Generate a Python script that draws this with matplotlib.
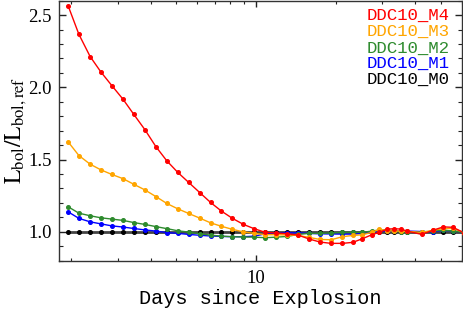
import numpy as np
import matplotlib
matplotlib.use("Agg")
import matplotlib.pyplot as plt
from matplotlib.ticker import MultipleLocator, FormatStrFormatter, LogLocator, NullFormatter

# time grid (days since explosion)
days = [1.95, 2.14, 2.36, 2.59, 2.85, 3.14, 3.45, 3.80, 4.18, 4.60,
        5.06, 5.56, 6.12, 6.73, 7.40, 8.14, 8.96, 9.85, 10.84, 11.92,
        13.11, 14.42, 15.87, 17.45, 19.2, 21.2, 23.2, 25.2, 27.3, 29.2,
        31.3, 33.3, 35.2, 37.2, 42.2, 46.4, 51.0, 55.5, 61.0]

m4 = [2.563, 2.367, 2.213, 2.107, 2.012, 1.918, 1.813, 1.707, 1.590, 1.491,
      1.411, 1.342, 1.272, 1.203, 1.143, 1.093, 1.051, 1.021, 0.996, 0.991,
      0.986, 0.977, 0.950, 0.929, 0.920, 0.920, 0.927, 0.952, 0.979, 0.996,
      1.019, 1.021, 1.019, 1.005, 0.982, 1.010, 1.034, 1.031, 0.993]
m3 = [1.622, 1.528, 1.468, 1.429, 1.397, 1.368, 1.329, 1.290, 1.244, 1.196,
      1.159, 1.127, 1.095, 1.062, 1.038, 1.017, 0.999, 0.989, 0.980, 0.980,
      0.978, 0.975, 0.961, 0.947, 0.945, 0.966, 0.975, 0.979, 0.996, 1.017,
      1.007, 1.005, 1.005, 1.003, 0.996, 1.010, 1.023, 1.023, 0.995]
m2 = [1.173, 1.129, 1.111, 1.097, 1.088, 1.079, 1.064, 1.051, 1.036, 1.022,
      1.007, 0.998, 0.986, 0.977, 0.970, 0.966, 0.964, 0.963, 0.959, 0.963,
      0.968, 0.982, 0.989, 0.989, 0.992, 0.996, 0.996, 0.996, 1.005, 1.012,
      1.012, 1.008, 1.000, 0.998, 0.996, 1.005, 1.012, 1.005, 0.998]
m1 = [1.138, 1.093, 1.069, 1.055, 1.041, 1.033, 1.023, 1.013, 1.005, 0.995,
      0.989, 0.982, 0.976, 0.971, 0.968, 0.966, 0.966, 0.970, 0.986, 0.989,
      0.993, 0.993, 0.989, 0.986, 0.985, 0.984, 0.984, 0.989, 0.996, 1.003,
      1.005, 1.005, 1.005, 1.005, 1.002, 1.000, 1.010, 1.005, 1.000]
m0 = [1.0] * len(days)

names = ["DDC10_M4", "DDC10_M3", "DDC10_M2", "DDC10_M1", "DDC10_M0"]
colors = ["#ff0000", "#ffa500", "#2e8b2e", "#0000ff", "#000000"]

plt.rcParams['mathtext.fontset'] = 'stix'
fig = plt.figure(figsize=(4.63, 3.09), dpi=100)
ax = fig.add_axes([0.1274, 0.1563, 0.8706, 0.8417])

# reference model (flat line at 1)
ax.plot(days, m0, color="#444444", lw=2.0, zorder=2)
ax.plot(days, m0, "o", color="black", ms=2.6, zorder=3)
for ys, c in zip([m1, m2, m3, m4], colors[3::-1]):
    ax.plot(days, ys, "-o", color=c, lw=1.0, ms=2.6, zorder=4)

ax.set_xscale("log")
ax.set_xlim(1.8, 60)
ax.set_ylim(0.8, 2.6)
ax.xaxis.set_minor_locator(LogLocator(base=10, subs=np.arange(2, 10)))
ax.xaxis.set_minor_formatter(NullFormatter())
ax.set_xticks([10])
ax.set_xticklabels(["10"])
ax.yaxis.set_major_locator(MultipleLocator(0.5))
ax.yaxis.set_minor_locator(MultipleLocator(0.1))
ax.yaxis.set_major_formatter(FormatStrFormatter("%.1f"))

ax.tick_params(which="both", direction="in", top=True, right=True, color="#222222")
ax.tick_params(axis="x", which="major", length=4, width=1, labelsize=13.5, pad=7)
ax.tick_params(axis="x", which="minor", length=2, width=0.8)
ax.tick_params(axis="y", which="major", length=5, width=1, labelsize=13.5, pad=5)
ax.tick_params(axis="y", which="minor", length=3, width=0.8)
for lab in ax.get_xticklabels() + ax.get_yticklabels():
    lab.set_family("Liberation Serif")
for s in ax.spines.values():
    s.set_color("#333333")
    s.set_linewidth(1.0)

ax.set_xlabel("Days since Explosion", family="Liberation Mono", fontsize=14.5, labelpad=1)
ax.set_ylabel(r"$\mathrm{L_{bol}/L_{bol,ref}}$", fontsize=17, labelpad=0)

ypos = [0.945, 0.880, 0.818, 0.757, 0.696]
for name, c, yp in zip(names, colors, ypos):
    ax.text(0.968, yp, name, transform=ax.transAxes, ha="right", va="center",
            color=c, family="Liberation Mono", fontsize=12.5)

fig.savefig("out.png", dpi=100)
